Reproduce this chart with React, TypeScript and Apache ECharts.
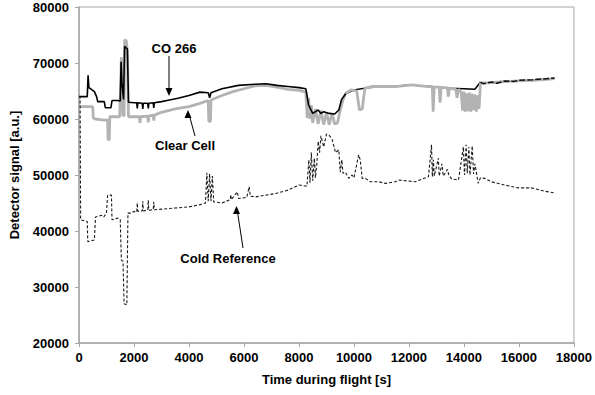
import React, { useEffect, useRef } from "react";
import * as echarts from "echarts";

const xTicks = { min: 0, max: 18000, interval: 2000 };
const yTicks = { min: 20000, max: 80000, interval: 10000 };

// CO 266 — early part (drawn above the Clear Cell trace)
const co266Early: number[][] = [
  [0, 64000], [300, 64000], [330, 67800], [360, 65600], [560, 64900], [640, 64000],
  [680, 63100], [920, 63100], [960, 62000], [1160, 62000], [1200, 63300], [1400, 63300],
  [1500, 63200], [1530, 70200], [1560, 66500], [1620, 63500], [1660, 73000], [1760, 72500],
  [1800, 63000], [2000, 62900], [2100, 62900], [2120, 61900], [2140, 62900], [2300, 62800],
  [2320, 61800], [2340, 62800], [2500, 62800], [2520, 61900], [2540, 62800], [2700, 62900],
  [2720, 62000], [2740, 62900], [3000, 63100], [3200, 63300], [3600, 63700], [4000, 64200],
  [4400, 64800], [4700, 64700], [4750, 63800], [4800, 64700], [5200, 65400], [5800, 66000],
  [6400, 66200], [6800, 66300], [7200, 66000], [7600, 65800], [8000, 65600], [8250, 65400],
  [8350, 62500], [8500, 61000], [8700, 61600], [8800, 61000], [8900, 61300], [9100, 61000],
  [9300, 60900], [9450, 61600], [9550, 63500], [9700, 64500],
];
// CO 266 — middle part (hidden beneath the Clear Cell trace)
const co266Mid: number[][] = [
  [9700, 64500], [10000, 65200], [10500, 65600], [11000, 65800], [11500, 65800], [12000, 66100],
  [12500, 65900], [13000, 65700], [13500, 65500], [14000, 65400], [14400, 65300], [14600, 66600],
];
// CO 266 — late part
const co266Late: number[][] = [
  [14600, 66600], [14700, 66300], [15000, 66600], [15200, 66400], [15500, 66800], [15800, 66700],
  [16000, 66900], [16500, 67000], [17000, 67200], [17300, 67300],
];

const clearCell: number[][] = [
  [0, 62200], [500, 62200], [520, 60200], [600, 60000], [900, 59800], [1040, 59800],
  [1060, 56300], [1100, 56300], [1120, 60400], [1480, 60400], [1520, 67000], [1540, 71000],
  [1560, 67000], [1600, 60600], [1640, 60600], [1660, 74100], [1720, 74000], [1760, 71800],
  [1800, 60400], [2000, 60400], [2200, 60400], [2220, 59300], [2240, 60400], [2500, 60500],
  [2520, 59400], [2540, 60500], [2700, 60700], [2720, 59700], [2740, 60700], [3000, 61200],
  [3500, 61800], [4000, 62200], [4400, 62800], [4700, 63300], [4720, 59600], [4780, 59600],
  [4800, 63400], [5200, 64200], [5600, 64900], [6000, 65400], [6400, 65900], [6800, 66000],
  [7200, 65700], [7600, 65300], [8000, 65100], [8250, 64800], [8300, 60200], [8350, 63800],
  [8400, 60000], [8450, 62500], [8500, 59300], [8600, 61800], [8700, 59100], [8800, 61500],
  [8900, 59000], [9000, 61200], [9100, 59000], [9200, 61000], [9300, 59100], [9400, 59300],
  [9500, 61600], [9600, 63400], [9700, 64600], [9900, 65200], [10100, 65000], [10200, 61600],
  [10300, 61800], [10400, 65500], [10650, 65800], [11000, 65800], [11500, 65800], [12100, 66100],
  [12700, 65800], [12850, 65800], [12880, 61300], [12920, 65700], [13100, 65700], [13130, 62900],
  [13170, 65600], [13400, 65600], [13430, 64000], [13470, 65500], [13700, 65300], [13750, 63800],
  [13800, 65300], [13900, 64800], [13950, 61500], [14000, 64900], [14050, 61300], [14100, 64600],
  [14150, 61400], [14200, 64700], [14250, 61300], [14300, 64500], [14350, 61600], [14400, 64400],
  [14450, 61300], [14500, 64200], [14550, 61800], [14600, 66400], [15000, 66500], [15500, 66700],
  [16000, 66800], [16500, 66900], [17000, 67100], [17300, 67200],
];

const coldReference: number[][] = [
  [0, 64000], [40, 64000], [60, 42000], [300, 41700], [320, 38100], [560, 38400], [600, 42500],
  [820, 42800], [900, 42500], [1000, 43200], [1040, 46400], [1180, 46400], [1200, 42000],
  [1420, 42300], [1500, 42000], [1540, 34800], [1600, 34600], [1640, 27000], [1740, 26800],
  [1780, 43200], [1900, 43200], [2000, 43500], [2100, 43400], [2120, 45000], [2140, 43500],
  [2300, 43600], [2320, 45300], [2340, 43600], [2500, 43700], [2520, 45500], [2540, 43700],
  [2700, 43800], [2720, 45200], [2740, 43800], [3000, 43900], [3500, 44100], [4000, 44300],
  [4400, 44700], [4600, 45000], [4650, 50400], [4700, 45300], [4750, 50200], [4800, 45300],
  [4850, 49800], [4900, 45200], [5200, 45000], [5500, 45600], [5520, 46500], [5540, 45600],
  [5760, 47000], [5800, 45800], [6100, 46000], [6190, 47900], [6230, 46200], [6430, 46100],
  [6800, 46400], [7160, 46700], [7600, 47300], [8000, 48200], [8290, 48000], [8360, 52700],
  [8400, 48600], [8450, 54000], [8500, 49000], [8560, 53000], [8600, 49500], [8650, 52000],
  [8700, 56000], [8750, 54000], [8800, 57000], [8900, 55000], [9000, 57300], [9090, 57100],
  [9200, 56500], [9330, 54000], [9450, 54500], [9500, 50500], [9560, 52700], [9600, 50300],
  [9690, 50500], [9810, 49400], [9930, 50000], [10000, 49500], [10170, 53600], [10230, 52700],
  [10300, 49400], [10420, 49400], [10600, 48800], [10900, 48800], [11140, 48500], [11500, 48800],
  [11620, 49100], [12230, 48800], [12710, 49700], [12820, 55400], [12850, 49700], [12890, 52700],
  [12920, 49800], [13070, 53000], [13100, 49800], [13200, 52000], [13250, 49800], [13400, 51000],
  [13450, 50000], [13550, 49300], [13800, 49100], [13980, 55000], [14020, 50000], [14080, 55400],
  [14120, 50300], [14180, 55000], [14220, 50000], [14300, 55200], [14350, 50200], [14400, 52000],
  [14520, 48500], [14600, 49500], [14760, 49400], [14990, 48800], [15490, 48200], [15970, 47700],
  [16450, 47700], [16940, 47100], [17300, 46800],
];

const labels = ["CO 266", "Clear Cell", "Cold Reference"];

const FONT = "'Liberation Sans', Arial, sans-serif";

export default function App() {
  const ref = useRef<HTMLDivElement>(null);
  useEffect(() => {
    document.body.style.margin = "0";
    const chart = echarts.init(ref.current!, null, { renderer: "svg" });
    const axisColor = "#a6a6a6";
    const textStyle = { fontFamily: FONT, fontWeight: "bold" as const, fontSize: 13, color: "#000" };
    const arrowHead = (x: number, y: number, dir: number) => ({
      type: "polygon",
      shape: { points: [[x, y], [x - 3.5, y - 8 * dir], [x + 3.5, y - 8 * dir]] },
      style: { fill: "#000" },
    });
    const plain = (v: number) => String(v);
    chart.setOption({
      animation: false,
      backgroundColor: "#fff",
      grid: { left: 79, right: 19, top: 7, bottom: 52, show: true, borderColor: axisColor, borderWidth: 1 },
      xAxis: {
        type: "value",
        ...xTicks,
        name: "Time during flight [s]",
        nameLocation: "middle",
        nameGap: 30,
        nameTextStyle: { ...textStyle },
        axisLine: { lineStyle: { color: axisColor, width: 1.5 } },
        axisTick: { show: true, length: 4, lineStyle: { color: axisColor } },
        axisLabel: { ...textStyle, margin: 8, formatter: plain },
        splitLine: { show: false },
      },
      yAxis: {
        type: "value",
        ...yTicks,
        name: "Detector signal [a.u.]",
        nameLocation: "middle",
        nameGap: 58,
        nameTextStyle: { ...textStyle },
        axisLine: { show: true, lineStyle: { color: axisColor, width: 1.5 } },
        axisTick: { show: true, length: 4, lineStyle: { color: axisColor } },
        axisLabel: { ...textStyle, margin: 10, formatter: plain },
        splitLine: { show: false },
      },
      series: [
        {
          name: labels[0], type: "line", data: co266Mid, showSymbol: false, z: 1,
          lineStyle: { color: "#000", width: 1.5 },
        },
        {
          name: labels[1], type: "line", data: clearCell, showSymbol: false, z: 2,
          lineStyle: { color: "#b3b3b3", width: 2.8 },
        },
        {
          name: labels[0] + " ", type: "line", data: co266Early, showSymbol: false, z: 3,
          lineStyle: { color: "#000", width: 1.6 },
        },
        {
          name: labels[0] + "  ", type: "line", data: co266Late, showSymbol: false, z: 3,
          lineStyle: { color: "#111", width: 1.5, type: [6, 2] },
        },
        {
          name: labels[2], type: "line", data: coldReference, showSymbol: false, z: 3,
          lineStyle: { color: "#1a1a1a", width: 1.1, type: [3, 2] },
        },
      ],
      graphic: [
        { type: "text", x: 174, y: 48, style: { text: labels[0], font: `bold 13px ${FONT}`, fill: "#000", align: "center", verticalAlign: "middle" } },
        { type: "line", shape: { x1: 169, y1: 56, x2: 169, y2: 90 }, style: { stroke: "#000", lineWidth: 1 } },
        arrowHead(169, 96, 1),
        { type: "text", x: 185, y: 145, style: { text: labels[1], font: `bold 13px ${FONT}`, fill: "#000", align: "center", verticalAlign: "middle" } },
        { type: "line", shape: { x1: 195, y1: 136, x2: 189.5, y2: 116 }, style: { stroke: "#000", lineWidth: 1 } },
        arrowHead(188, 110, -1),
        { type: "text", x: 228, y: 258, style: { text: labels[2], font: `bold 13px ${FONT}`, fill: "#000", align: "center", verticalAlign: "middle" } },
        { type: "line", shape: { x1: 243, y1: 248, x2: 237.5, y2: 212 }, style: { stroke: "#000", lineWidth: 1 } },
        arrowHead(236.5, 206, -1),
      ],
    });
    return () => chart.dispose();
  }, []);
  return <div ref={ref} style={{ width: 595, height: 395 }} />;
}
